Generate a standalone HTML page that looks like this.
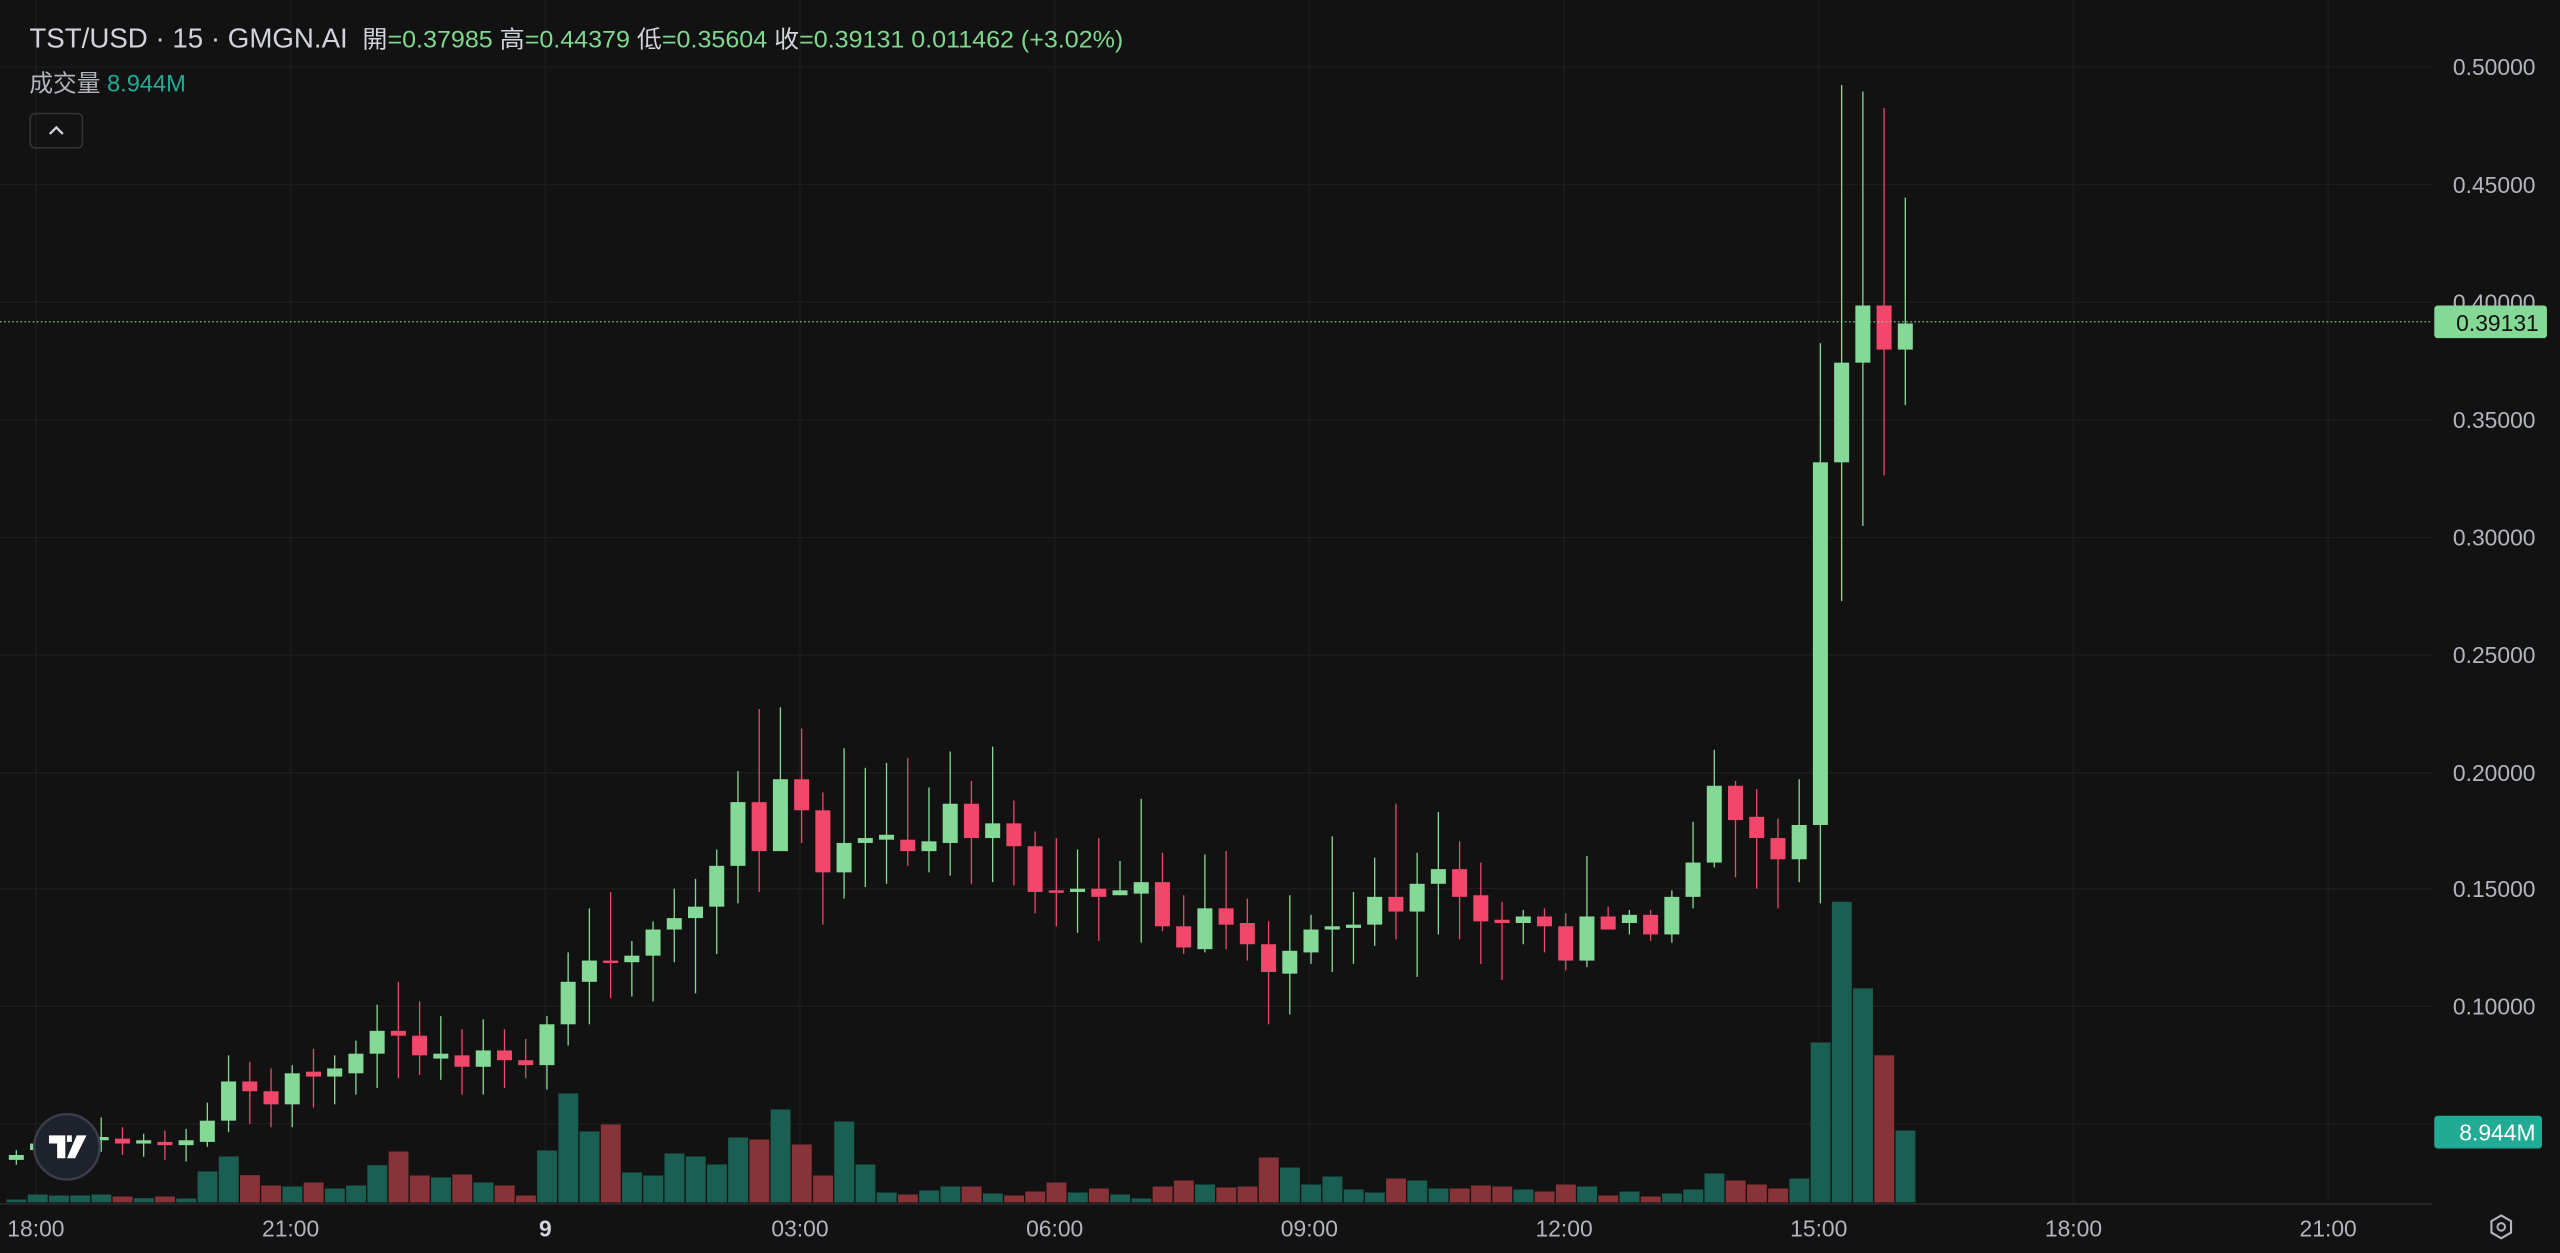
<!DOCTYPE html>
<html><head><meta charset="utf-8"><style>
html,body{margin:0;padding:0;background:#121212;overflow:hidden}
svg{display:block}
text{font-family:"Liberation Sans","Noto Sans CJK TC",sans-serif}
</style></head><body>
<svg id="s" width="2560" height="1253" viewBox="0 0 1568 767" preserveAspectRatio="none" xmlns="http://www.w3.org/2000/svg">
<rect width="1568" height="767" fill="#121212"/>
<g id="grid" stroke="#1d1d1d" stroke-width="0.8"></g>
<g id="vol"></g>
<g id="cand"></g>
<line x1="0" y1="197" x2="1490" y2="197" stroke="#85d996" stroke-width="0.7" stroke-dasharray="1,1.5"/>
<line x1="0" y1="737" x2="1490" y2="737" stroke="#2a2a2a" stroke-width="1"/>
<g id="ax" fill="#b2b5be" font-size="14" text-anchor="end"></g>
<rect x="1491" y="187" width="69" height="20" rx="2" fill="#85d996"/>
<text x="1555" y="202.5" font-size="14" text-anchor="end" fill="#131313">0.39131</text>
<rect x="1491" y="683" width="66" height="20" rx="2" fill="#22ab94"/>
<text x="1553" y="698" font-size="14" text-anchor="end" fill="#ffffff">8.944M</text>
<g fill="#b2b5be" font-size="14" text-anchor="middle">
<text x="22" y="757">18:00</text><text x="178" y="757">21:00</text><text x="334" y="757" font-weight="bold" fill="#d1d4dc">9</text>
<text x="490" y="757">03:00</text><text x="646" y="757">06:00</text><text x="802" y="757">09:00</text>
<text x="958" y="757">12:00</text><text x="1114" y="757">15:00</text><text x="1270" y="757">18:00</text><text x="1426" y="757">21:00</text>
</g>
<path d="M1532 744 l6 3.5 v7 l-6 3.5 l-6 -3.5 v-7z" fill="none" stroke="#b2b5be" stroke-width="1.3"/>
<circle cx="1532" cy="751" r="2.3" fill="none" stroke="#b2b5be" stroke-width="1.2"/>
<text x="18" y="29" font-size="17" fill="#d1d4dc" textLength="195" lengthAdjust="spacingAndGlyphs">TST/USD · 15 · GMGN.AI</text>
<text x="222" y="29" font-size="14.5" fill="#d1d4dc" textLength="466" lengthAdjust="spacingAndGlyphs">開<tspan fill="#7fd88f">=0.37985 </tspan>高<tspan fill="#7fd88f">=0.44379 </tspan>低<tspan fill="#7fd88f">=0.35604 </tspan>收<tspan fill="#7fd88f">=0.39131  0.011462 (+3.02%)</tspan></text>
<text x="18" y="56" font-size="14.5" fill="#b2b5be">成交量 <tspan fill="#22ab94">8.944M</tspan></text>
<rect x="18.5" y="69.5" width="32" height="21" rx="3" fill="none" stroke="#333" stroke-width="1"/>
<path d="M30.5 82 l4 -4 l4 4" fill="none" stroke="#d1d4dc" stroke-width="1.4"/>
<circle cx="41" cy="702" r="20" fill="#1e222d" stroke="#3a3e4a" stroke-width="1.5"/>
<path d="M30 695 h10 v14 h-5 v-9 h-5z M41 695 h3 v4 h-3z M47 695 h6 l-7 14 h-5z" fill="#fff"/>
</svg>
<script>
const NS="http://www.w3.org/2000/svg";
function el(p,t,a){const e=document.createElementNS(NS,t);for(const k in a)e.setAttribute(k,a[k]);p.appendChild(e);return e;}
const grid=document.getElementById('grid'),ax=document.getElementById('ax');
const levels=[["0.50000",41],["0.45000",113],["0.40000",185],["0.35000",257],["0.30000",329],["0.25000",401],["0.20000",473],["0.15000",544],["0.10000",616],["0.050000",688]];
levels.forEach(([t,y])=>{el(grid,'line',{x1:0,x2:1490,y1:y,y2:y});const tx=el(ax,'text',{x:1553,y:y+5});tx.textContent=t;});
[22,178,334,490,646,802,958,1114,1270,1426].forEach(x=>el(grid,'line',{x1:x,x2:x,y1:0,y2:737}));
const C=[[710,707,704,713],[704,700,696,708],[700,699,694,706],[700,699,694,706],[698,696,684,705],[697,700,690,707],[700,698,694,708],[699,701,692,710],[701,698,691,711],[699,686,675,702],
[686,662,646,693],[662,668,650,688],[668,676,654,690],[676,657,652,690],[656,659,642,678],[659,654,646,676],[657,645,637,670],[645,631,615,666],[631,634,601,660],[634,646,613,658],
[648,645,622,661],[646,653,630,670],[653,643,624,670],[643,649,630,666],[649,652,636,660],[652,627,622,667],[627,601,583,640],[601,588,556,627],[588,589.5,546,611],[589,585,576,610],
[585,569,564,613],[569,562,544,589],[562,555,538,608],[555,530,520,584],[530,491,472,553],[491,521,434,546],[521,477,433,514],[477,496,446,516],[496,534,485,566],[534,516,458,550],
[516,513,470,543],[514,511,467,541],[514,521,464,530],[521,515,482,534],[516,492,460,536],[492,513,478,541],[513,504,457,540],[504,518,490,542],[518,546,509,559],[545,546.5,513,567],
[546,544,520,571],[544,549,513,576],[548,545,527,547],[547,540,489,577],[540,567,522,570],[567,580,548,584],[581,556,523,583],[556,566,521,581],[565,578,550,588],[578,595,564,627],
[596,582,548,621],[583,569,560,590],[569,567,512,595],[568,566,546,590],[566,549,525,579],[549,558,492,575],[558,541,522,598],[541,532,497,572],[532,549,515,575],[548,564,528,590],
[563,565,552,600],[565,561,557,578],[561,567,556,583],[567,588,559,594],[588,561,524,592],[561,569,555,569],[565,560,557,572],[560,572,557,576],[572,549,545,577],[549,528,503,556],
[528,481,459,531],[481,502,478,537],[500,513,483,544],[513,526,501,556],[526,505,477,540],[505,283,210,553],[283,222,52,368],[222,187,56,322],[187,214,66,291],[214,198,121,248]];
const V=[597,582,585,585,582,588,593,588,594,513,468,524,555,558,546,564,555,494,453,525,531,522,546,555,585,450,279,393,372,516,525,459,468,492,411,417,327,432,525,363,492,576,582,570,558,558,579,585,573,546,576,564,582,594,558,540,552,561,558,471,501,552,528,567,576,534,540,564,564,555,558,567,573,552,558,585,573,588,579,567,519,540,552,564,534,126];
const vol=document.getElementById('vol'),cand=document.getElementById('cand');
C.forEach((c,i)=>{
 const x=10+13*i,[o,cl,h,l]=c,up=cl<=o;
 let vt = i<V.length? 612.4+V[i]*0.2041 : [552,605,646,692][i-86];
 el(vol,'rect',{x:x-6,y:vt,width:12.2,height:736-vt,fill:up?'#1b5e52':'#873338'});
 const col=up?'#85d996':'#f0476b';
 el(cand,'line',{x1:x,x2:x,y1:h,y2:l,stroke:col,'stroke-width':0.8});
 const t=Math.min(o,cl),b=Math.max(o,cl);
 el(cand,'rect',{x:x-4.6,y:t,width:9.2,height:Math.max(b-t,1.5),fill:col});
});
</script>
</body></html>
